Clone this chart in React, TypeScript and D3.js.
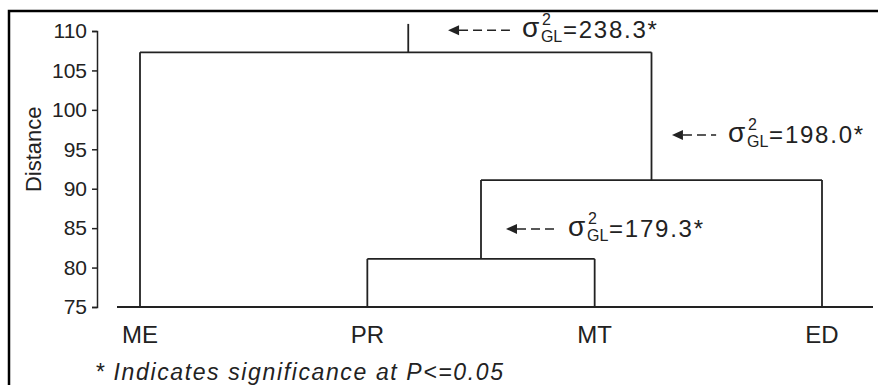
import React from "react";
import * as d3 from "d3";

// ---- data ----
const leaves = ["ME", "PR", "MT", "ED"];
// merges: [left child, right child, distance]; children are leaf names or merge ids
const mergeIds = ["m1", "m2", "root"];
const mergeLeft = ["PR", "m1", "ME"];
const mergeRight = ["MT", "ED", "m2"];
const mergeHeights = [81.1, 91.1, 107.3];
const rootStemTop = 110.9;
const rootStemPos = 1.18; // in leaf-index units
const yTicks = [75, 80, 85, 90, 95, 100, 105, 110];
const annotationValues = ["=238.3*", "=198.0*", "=179.3*"];
const annotationY = [110.1, 96.8, 84.9];
const annotationArrowX = [1.355, 2.34, 1.61];
const annotationTextX = [1.68, 2.587, 1.883];
const footnote = "* Indicates significance at P<=0.05";
const yLabel = "Distance";

const W = 878;
const H = 385;
const FONT = "'Liberation Sans', Arial, sans-serif";

export default function App() {
  const x = d3.scaleLinear().domain([0, leaves.length - 1]).range([140, 822]);
  const y = d3.scaleLinear().domain([75, 110]).range([307, 31]);

  const pos: Record<string, { x: number; h: number }> = {};
  leaves.forEach((l, i) => (pos[l] = { x: x(i), h: 75 }));
  const segs: { x1: number; y1: number; x2: number; y2: number }[] = [];
  mergeIds.forEach((id, i) => {
    const a = pos[mergeLeft[i]];
    const b = pos[mergeRight[i]];
    const h = mergeHeights[i];
    segs.push({ x1: a.x, y1: y(a.h), x2: a.x, y2: y(h) });
    segs.push({ x1: b.x, y1: y(b.h), x2: b.x, y2: y(h) });
    segs.push({ x1: a.x, y1: y(h), x2: b.x, y2: y(h) });
    pos[id] = { x: (a.x + b.x) / 2, h };
  });
  const root = pos["root"];
  const stemX = x(rootStemPos);

  const axisRef = React.useRef<SVGGElement>(null);
  React.useEffect(() => {
    if (!axisRef.current) return;
    const g = d3.select(axisRef.current);
    g.selectAll("*").remove();
    g.call(
      d3.axisLeft(y).tickValues(yTicks).tickSize(5).tickPadding(5).tickFormat(d3.format("d"))
    );
    g.selectAll("path, line").attr("stroke", "#222").attr("stroke-width", 1.5);
    g.selectAll("text")
      .attr("font-family", FONT)
      .attr("font-size", 21)
      .attr("fill", "#222");
  }, []);

  return (
    <svg
      width={W}
      height={H}
      style={{ position: "absolute", left: 0, top: 0, background: "#fff" }}
    >
      <rect x={9} y={11} width={W + 10} height={H + 10} fill="#fff" stroke="#000" strokeWidth={2.5} />
      <g ref={axisRef} transform="translate(97,0)" />
      <text
        transform={`translate(41,${(y(84.5) + y(105.5)) / 2}) rotate(-90)`}
        textAnchor="middle"
        fontFamily={FONT}
        fontSize={22}
        fill="#222"
      >
        {yLabel}
      </text>
      {/* baseline */}
      <line x1={117} x2={873} y1={y(75)} y2={y(75)} stroke="#222" strokeWidth={1.8} />
      {segs.map((s, i) => (
        <line key={i} x1={s.x1} y1={s.y1} x2={s.x2} y2={s.y2} stroke="#222" strokeWidth={1.8} />
      ))}
      <line x1={stemX} x2={stemX} y1={y(root.h)} y2={y(rootStemTop)} stroke="#222" strokeWidth={1.8} />
      {leaves.map((l, i) => (
        <text
          key={l}
          x={x(i)}
          y={343}
          textAnchor="middle"
          fontFamily={FONT}
          fontSize={24}
          fill="#222"
        >
          {l}
        </text>
      ))}
      {annotationValues.map((v, i) => {
        const ay = y(annotationY[i]);
        const ax = x(annotationArrowX[i]);
        const tx = x(annotationTextX[i]);
        return (
          <g key={v}>
            <path d={`M${ax},${ay}L${ax + 11},${ay - 5}L${ax + 11},${ay + 5}Z`} fill="#222" />
            <line
              x1={ax + 11}
              x2={tx - 12}
              y1={ay}
              y2={ay}
              stroke="#222"
              strokeWidth={1.5}
              strokeDasharray="9,5"
            />
            <text x={tx} y={ay + 7} fontFamily={FONT} fontSize={28} fill="#222">
              σ
            </text>
            <text x={tx + 20} y={ay - 5} fontFamily={FONT} fontSize={16} fill="#222">
              2
            </text>
            <text x={tx + 19} y={ay + 12} fontFamily={FONT} fontSize={16} fill="#222">
              GL
            </text>
            <text
              x={tx + 41}
              y={ay + 8}
              fontFamily={FONT}
              fontSize={24}
              fill="#222"
              textLength={94}
              lengthAdjust="spacing"
            >
              {v}
            </text>
          </g>
        );
      })}
      <text
        x={95}
        y={380}
        fontFamily={FONT}
        fontSize={23}
        fontStyle="italic"
        fill="#222"
        textLength={408}
        lengthAdjust="spacing"
      >
        {footnote}
      </text>
    </svg>
  );
}
